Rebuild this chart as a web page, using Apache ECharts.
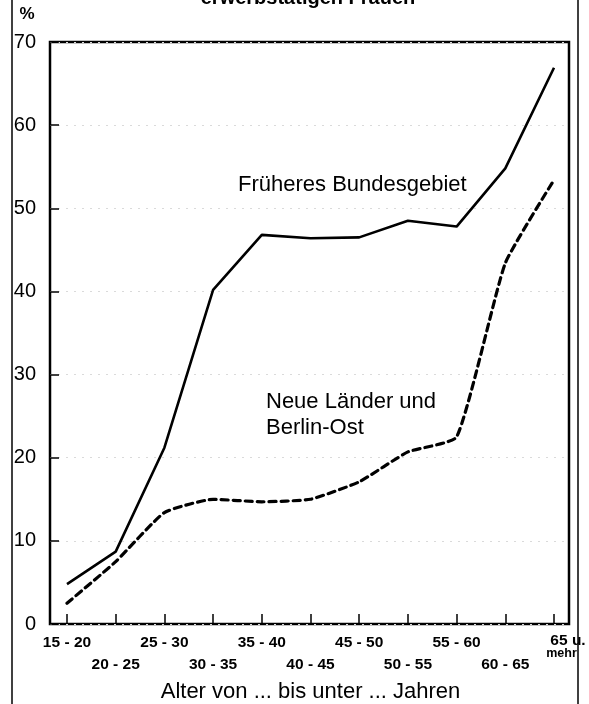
<!DOCTYPE html>
<html>
<head>
<meta charset="utf-8">
<script src="https://cdn.jsdelivr.net/npm/echarts@6/dist/echarts.min.js"></script>
<style>
  html, body { margin: 0; padding: 0; background: #fff; }
  #chart { width: 589px; height: 704px; }
</style>
</head>
<body>
<div id="chart"></div>
<script>
// Altersgruppen
const ageGroups = ['15 - 20', '20 - 25', '25 - 30', '30 - 35', '35 - 40', '40 - 45',
  '45 - 50', '50 - 55', '55 - 60', '60 - 65', '65 u. mehr'];
// Früheres Bundesgebiet (%)
const westValues = [4.8, 8.7, 21.2, 40.2, 46.8, 46.4, 46.5, 48.5, 47.8, 54.8, 66.9];
// Neue Länder und Berlin-Ost (%)
const eastValues = [2.5, 7.5, 13.4, 15.0, 14.7, 15.0, 17.1, 20.7, 22.5, 43.4, 53.4];
const yTicks = [0, 10, 20, 30, 40, 50, 60, 70];

const font = 'Liberation Sans, Arial, sans-serif';
const myChart = echarts.init(document.getElementById('chart'));

let option = {
  animation: false,
  backgroundColor: '#fff',
  textStyle: { fontFamily: font, color: '#000' },
  grid: [
    // Rahmen mit y-Achse
    { left: 50, right: 20, top: 42, bottom: 80, outerBoundsMode: 'none', containLabel: false, show: true, borderColor: '#000', borderWidth: 2.5, backgroundColor: 'transparent' },
    // Datenbereich
    { left: 67, right: 35, top: 42, bottom: 80, outerBoundsMode: 'none', containLabel: false }
  ],
  xAxis: [
    { gridIndex: 0, type: 'value', min: 0, max: 1, show: false },
    {
      gridIndex: 1,
      type: 'category',
      data: ageGroups,
      boundaryGap: false,
      axisLine: { show: false },
      axisTick: { show: true, inside: true, length: 10, lineStyle: { color: '#000', width: 1.5 } },
      axisLabel: {
        interval: 0,
        margin: 8,
        fontFamily: font,
        fontWeight: 'bold',
        fontSize: 15.5,
        lineHeight: 22,
        color: '#000',
        formatter: function (v, i) {
          if (i === ageGroups.length - 1) {
            return '{u|65 u.}\n{m|mehr}';
          }
          return i % 2 === 0 ? v : '\n' + v;
        },
        rich: {
          u: { fontSize: 15.5, fontWeight: 'bold', lineHeight: 12, padding: [5, 0, 0, 28] },
          m: { fontSize: 12.5, fontWeight: 'bold', lineHeight: 12, padding: [8, 0, 0, 15] }
        }
      },
      name: 'Alter von ... bis unter ... Jahren',
      nameLocation: 'middle',
      nameGap: 56,
      nameTextStyle: { fontFamily: font, fontSize: 22, color: '#000' }
    }
  ],
  yAxis: [
    {
      gridIndex: 0,
      type: 'value',
      min: yTicks[0],
      max: yTicks[yTicks.length - 1],
      interval: 10,
      axisLine: { show: false },
      axisTick: { show: true, inside: true, length: 9, lineStyle: { color: '#000', width: 1.5 } },
      axisLabel: { margin: 14, fontFamily: font, fontSize: 20, color: '#000' },
      splitLine: { show: true, lineStyle: { color: '#dadada', width: 1, type: [2, 6] } }
    },
    { gridIndex: 1, type: 'value', min: 0, max: 70, show: false }
  ],
  series: [
    {
      name: 'Früheres Bundesgebiet',
      type: 'line',
      xAxisIndex: 1,
      yAxisIndex: 1,
      data: westValues,
      symbol: 'none',
      lineStyle: { color: '#000', width: 2.6 }
    },
    {
      name: 'Neue Länder und Berlin-Ost',
      type: 'line',
      xAxisIndex: 1,
      yAxisIndex: 1,
      data: eastValues,
      symbol: 'none',
      smooth: 0.15,
      lineStyle: { color: '#000', width: 3.2, type: [7, 5], cap: 'round' }
    }
  ],
  graphic: [
    // äußerer Rahmen
    { type: 'line', shape: { x1: 12, y1: 0, x2: 12, y2: 704 }, style: { stroke: '#000', lineWidth: 1.5 } },
    { type: 'line', shape: { x1: 578, y1: 0, x2: 578, y2: 704 }, style: { stroke: '#000', lineWidth: 1.5 } },
    // Titel (angeschnitten)
    { type: 'text', x: 308, y: 8, style: { text: 'erwerbstätigen Frauen', fontFamily: font, fontSize: 20, fontWeight: 'bold', fill: '#000', align: 'center', verticalAlign: 'bottom' } },
    { type: 'text', x: 27, y: 14, style: { text: '%', fontFamily: font, fontSize: 17, fontWeight: 'bold', fill: '#000', align: 'center', verticalAlign: 'middle' } },
    { type: 'text', x: 238, y: 185, style: { text: 'Früheres Bundesgebiet', fontFamily: font, fontSize: 22, fill: '#000', align: 'left', verticalAlign: 'middle' } },
    { type: 'text', x: 266, y: 389, style: { text: 'Neue Länder und\nBerlin-Ost', fontFamily: font, fontSize: 22, lineHeight: 26, fill: '#000', align: 'left', verticalAlign: 'top' } }
  ]
};

myChart.setOption(option);
</script>
</body>
</html>
